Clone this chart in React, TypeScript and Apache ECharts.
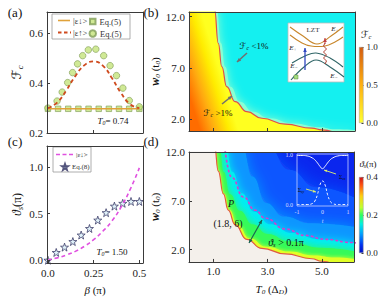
import React, { useEffect, useRef } from 'react';
import * as echarts from 'echarts';

const FONT = 'Liberation Serif, DejaVu Serif, serif';

// ---------- panel (a) ----------
const betaSquares = [0, 0.0556, 0.1111, 0.1667, 0.2222, 0.2778, 0.3333, 0.3889, 0.4444, 0.5];
const fcDownEq5 = [0.297, 0.297, 0.297, 0.297, 0.297, 0.297, 0.297, 0.297, 0.297, 0.297];
const betaCircles = [0, 0.05, 0.078, 0.108, 0.135, 0.162, 0.19, 0.221, 0.262, 0.305, 0.34, 0.375, 0.41, 0.445, 0.5];
const fcUpEq5 = [0.3, 0.328, 0.364, 0.402, 0.442, 0.477, 0.51, 0.533, 0.536, 0.51, 0.47, 0.43, 0.38, 0.33, 0.305];
const betaLineA = [0, 0.05, 0.1, 0.15, 0.2, 0.25, 0.3, 0.35, 0.4, 0.45, 0.5];
const fcDownLine = [0.297, 0.297, 0.297, 0.297, 0.297, 0.297, 0.297, 0.297, 0.297, 0.297, 0.297];
const fcUpLine = [0.3, 0.322, 0.37, 0.428, 0.472, 0.487, 0.47, 0.42, 0.36, 0.315, 0.3];

// ---------- panel (c) ----------
const betaStars = [0, 0.0455, 0.0909, 0.1364, 0.1818, 0.2273, 0.2727, 0.3182, 0.3636, 0.4091, 0.4545, 0.5];
const thetaEq8 = [0, 0.083, 0.14, 0.2, 0.27, 0.34, 0.43, 0.51, 0.58, 0.61, 0.63, 0.63];
const betaLineC = [0, 0.05, 0.1, 0.15, 0.2, 0.25, 0.3, 0.35, 0.4, 0.45, 0.5];
const thetaDown = [0, 0.025, 0.055, 0.095, 0.15, 0.22, 0.31, 0.42, 0.57, 0.76, 0.99];

// ---------- panel (b) ----------
const t0BoundB = [0.1, 1.04, 1.18, 1.31, 1.49, 1.8, 2.23, 2.79, 3.65, 4.63, 5.0, 5.4];
const w0BoundB = [12.7, 12.7, 9.4, 7.13, 5.19, 3.73, 2.76, 2.12, 1.54, 1.15, 0.99, 0.8];
const t0HaloB = [0.1, 1.12, 1.28, 1.43, 1.63, 1.98, 2.45, 3.05, 3.95, 4.9, 5.5, 6.3];
const w0HaloB = [12.7, 12.7, 9.4, 7.13, 5.19, 3.73, 2.76, 2.12, 1.6, 1.25, 1.05, 0.95];

// ---------- panel (d) ----------
const t0BoundD = [0.1, 1.04, 1.18, 1.37, 1.55, 1.8, 2.23, 2.79, 3.65, 4.63, 5.0, 5.4];
const w0BoundD = [12.7, 12.7, 10.06, 7.73, 6.06, 4.56, 3.06, 2.13, 1.56, 1.06, 0.8, 0.55];
const t0Yellow = [0.1, 1.06, 1.2, 1.4, 1.6, 1.88, 2.35, 2.95, 3.8, 4.7, 5.5, 6.3];
const w0Yellow = [12.7, 12.7, 10.06, 7.73, 6.06, 4.56, 3.15, 2.3, 1.8, 1.4, 1.18, 1.0];
const t0Green = [0.1, 1.22, 1.38, 1.62, 1.98, 2.45, 3.0, 3.8, 4.9, 6.3];
const w0Green = [12.7, 12.7, 10.0, 7.7, 6.0, 4.6, 3.6, 2.85, 2.2, 1.8];
const t0Cyan = [0.1, 1.45, 1.7, 2.05, 2.5, 3.1, 3.9, 4.9, 6.3];
const w0Cyan = [12.7, 12.7, 10.0, 7.8, 5.9, 4.6, 3.7, 3.05, 2.6];
const t0LBlue = [0.1, 2.05, 2.45, 2.95, 3.6, 4.6, 6.3];
const w0LBlue = [12.7, 12.7, 9.5, 6.8, 5.4, 4.7, 4.3];
const t0MBlue = [0.1, 3.0, 3.8, 4.8, 6.3];
const w0MBlue = [12.7, 12.7, 10.2, 8.4, 7.2];
const t0Dotted = [1.41, 1.68, 2.11, 2.54, 2.91, 3.65, 4.38, 5.12, 6.1, 6.3];
const w0Dotted = [12.7, 9.4, 7.4, 6.06, 5.23, 4.13, 3.46, 3.06, 2.73, 2.68];
const pointP = [1.8, 6];

// ---------- inset (d) ----------
const tInset = [-1, -0.8, -0.6, -0.4, -0.3, -0.2, -0.1, 0, 0.1, 0.2, 0.3, 0.4, 0.6, 0.8, 1];
const sigmaZZ = [1, 1, 0.99, 0.95, 0.91, 0.85, 0.78, 0.73, 0.78, 0.85, 0.91, 0.95, 0.99, 1, 1];
const sigmaZY = [0, 0, 0, 0.02, 0.07, 0.2, 0.4, 0.48, 0.4, 0.2, 0.07, 0.02, 0, 0, 0];

// ---------- colour bars ----------
const cbFcMax = [1];
const cbThetaMax = [0.4];
const cbFcTicks = [0, 0.5, 1];
const cbThetaTicks = [0, 0.2, 0.4];

const zip = (xs: number[], ys: number[]) => xs.map((x, i) => [x, ys[i]]);

const starPath =
  'path://M0,-10 L2.35,-3.24 L9.51,-3.09 L3.8,1.24 L5.88,8.09 L0,4 L-5.88,8.09 L-3.8,1.24 L-9.51,-3.09 L-2.35,-3.24 Z';

const FRAME = '#3a3a3a';

function frameX(gridIndex: number) {
  return {
    type: 'value', gridIndex, position: 'top', min: 0, max: 1, z: 10,
    axisLine: { show: true, onZero: false, lineStyle: { color: FRAME, width: 1 } },
    axisTick: { show: false }, axisLabel: { show: false }, splitLine: { show: false },
  };
}
function frameY(gridIndex: number) {
  return {
    type: 'value', gridIndex, position: 'right', min: 0, max: 1, z: 10,
    axisLine: { show: true, onZero: false, lineStyle: { color: FRAME, width: 1 } },
    axisTick: { show: false }, axisLabel: { show: false }, splitLine: { show: false },
  };
}
const tickLbl = (vals: number[], fmt: (v: number) => string, show = true, extra: any = {}) => ({
  show, customValues: vals, formatter: fmt, fontFamily: FONT, fontSize: 11, color: '#222', margin: 4, ...extra,
});
const ticks = (vals: number[]) => ({ show: true, inside: true, length: 3, customValues: vals, lineStyle: { color: FRAME } });

function arrow(x1: number, y1: number, x2: number, y2: number, color: string, w: number, head: number, dbl: boolean) {
  const els: any[] = [{ type: 'line', z: 100, shape: { x1, y1, x2, y2 }, style: { stroke: color, lineWidth: w } }];
  const mk = (xa: number, ya: number, xb: number, yb: number) => {
    const dx = xb - xa, dy = yb - ya, L = Math.hypot(dx, dy), ux = dx / L, uy = dy / L;
    const bx = xb - ux * head, by = yb - uy * head, px = -uy * head * 0.45, py = ux * head * 0.45;
    return { type: 'polygon', z: 100, shape: { points: [[xb, yb], [bx + px, by + py], [bx - px, by - py]] }, style: { fill: color } };
  };
  els.push(mk(x1, y1, x2, y2));
  if (dbl) els.push(mk(x2, y2, x1, y1));
  return els;
}

function txt(x: number, y: number, text: string, rich: any, size = 10, align = 'center', color = '#111') {
  return {
    type: 'text', x, y, z: 100,
    style: { text, rich, fill: color, fontFamily: FONT, fontSize: size, align, verticalAlign: 'middle' },
  };
}

const subRich = (size: number, color = '#111') => ({
  i: { fontFamily: FONT, fontStyle: 'italic', fontSize: size, color },
  n: { fontFamily: FONT, fontSize: size, color },
  s: { fontFamily: FONT, fontStyle: 'italic', fontSize: size * 0.65, color, padding: [size * 0.55, 0, 0, 0] },
  f: { fontFamily: 'DejaVu Serif, DejaVu Sans', fontStyle: 'italic', fontSize: size, color },
});

const legendLine = (x1: number, x2: number, y: number, color: string, width: number, dash: number[] | null) => ({
  type: 'line', z: 100, shape: { x1, y1: y, x2, y2: y },
  style: dash ? { stroke: color, lineWidth: width, lineDash: dash } : { stroke: color, lineWidth: width },
});

const symLegend = (left: number, top: number, name: string, label: string, s: number, fs: number) => ({
  left, top, padding: 0, itemWidth: s, itemHeight: s, data: [name], formatter: () => label,
  textStyle: { fontSize: fs, fontFamily: FONT, color: '#333', padding: [0, 0, 0, -1] },
});

export default function App() {
  const ref = useRef<HTMLDivElement>(null);
  useEffect(() => {
    if (!ref.current) return;
    const chart = echarts.init(ref.current, undefined, { renderer: 'svg' });

    const gradB = new echarts.graphic.LinearGradient(0, 0.7, 0.25, 0.633, [
      { offset: 0, color: '#ff6c00' },
      { offset: 0.35, color: '#ffaa10' },
      { offset: 0.75, color: '#ffec00' },
      { offset: 1, color: '#ffff20' },
    ]);
    const cbGradB = new echarts.graphic.LinearGradient(0, 0, 0, 1, [
      { offset: 0, color: '#d45c10' },
      { offset: 0.5, color: '#ffb010' },
      { offset: 1, color: '#ffff30' },
    ]);
    const cbGradD = new echarts.graphic.LinearGradient(0, 0, 0, 1, [
      { offset: 0, color: '#cc1515' },
      { offset: 0.1, color: '#ff5010' },
      { offset: 0.25, color: '#ffd010' },
      { offset: 0.4, color: '#c0ff30' },
      { offset: 0.5, color: '#30ff60' },
      { offset: 0.62, color: '#00f0e0' },
      { offset: 0.75, color: '#00a0ff' },
      { offset: 0.9, color: '#0030f0' },
      { offset: 1, color: '#0010c0' },
    ]);

    const r10 = subRich(10);
    const r9 = subRich(9);
    const r7 = subRich(7);
    const r6w = subRich(6, '#e8ecff');
    const lrA = { n: { fontFamily: FONT, fontSize: 8.5, color: '#333' } };
    const lrC = { n: { fontFamily: FONT, fontSize: 7, color: '#333' } };

    const graphics: any[] = [
      txt(15, 12, '(a)', null, 13), txt(151, 12, '(b)', null, 13),
      txt(15, 141, '(c)', null, 13), txt(151, 141, '(d)', null, 13),
      { type: 'rect', z: 1, shape: { x: 52, y: 14, width: 78, height: 25 }, style: { fill: '#fff', stroke: '#999', lineWidth: 0.8 } },
      { type: 'rect', z: 1, shape: { x: 53, y: 147, width: 38, height: 25 }, style: { fill: '#fff', stroke: '#999', lineWidth: 0.8 } },
      legendLine(58, 70, 20.5, '#e0a23a', 1.6, null),
      txt(73, 20.5, '{n||ε↓>}', lrA, 8.5, 'left', '#333'),
      legendLine(58, 71, 32.5, '#cf4a1e', 1.8, [3.5, 2.5]),
      txt(73, 32.5, '{n||ε↑>}', lrA, 8.5, 'left', '#333'),
      legendLine(56, 73, 154.5, '#e050e0', 1.6, [4, 2.5]),
      txt(76, 154.5, '{n||ε↓>}', lrC, 7, 'left', '#333'),
      txt(113, 121, '{i|T}{s|0}{n|= 0.74}', r9, 9),
      txt(112, 252, '{i|T}{s|0}{n|= 1.50}', r9, 9),
      txt(254, 46, '{f|ℱ}{s|c}{n| <1%}', r9, 9),
      txt(218, 113, '{f|ℱ}{s|c}{n| >1%}', r9, 9),
      ...arrow(247, 53, 237, 62, '#707070', 1.6, 4, false),
      ...arrow(222, 104, 232, 96, '#707070', 1.6, 4, false),
      { type: 'rect', z: 100, shape: { x: 288, y: 23, width: 56, height: 59 }, style: { fill: '#fff', stroke: '#bbb', lineWidth: 0.8 } },
      { type: 'polyline', z: 101, shape: { points: [[290, 27], [303, 36], [317, 44], [331, 36], [343, 27]], smooth: 0.4 }, style: { stroke: '#c8862a', lineWidth: 1.1, fill: null } },
      { type: 'polyline', z: 101, shape: { points: [[290, 35], [302, 43], [311, 46], [325, 46], [335, 42], [343, 37]], smooth: 0.4 }, style: { stroke: '#c8862a', lineWidth: 1.1, fill: null } },
      { type: 'polyline', z: 101, shape: { points: [[292, 63], [305, 56], [316, 53], [330, 58], [343, 67]], smooth: 0.4 }, style: { stroke: '#2e6466', lineWidth: 1.1, fill: null } },
      { type: 'polyline', z: 101, shape: { points: [[291, 80], [304, 67], [316, 60], [330, 67], [344, 77]], smooth: 0.4 }, style: { stroke: '#2e6466', lineWidth: 1.1, fill: null } },
      ...arrow(305, 70, 305, 48, '#3048c0', 1.3, 4, false).map((e) => ({ ...e, z: 102 })),
      { type: 'polyline', z: 102, shape: { points: [[325, 64], [326.5, 61], [323.5, 58], [326.5, 55], [323.5, 52], [326.5, 49], [323.5, 46], [325, 43]] }, style: { stroke: '#b04030', lineWidth: 1, fill: null } },
      ...arrow(325, 44, 325, 38, '#c04040', 1, 4, false).map((e) => ({ ...e, z: 102 })),
      txt(313, 30, 'LZT', null, 7, 'center', '#333'),
      txt(335, 29, '{i|E}{s|+}', r7, 7),
      txt(293, 48, '{i|E}{s|+}', r7, 7),
      txt(294, 66, '{i|E}{s|−}', r7, 7),
      txt(334, 76, '{i|E}{s|−}', r7, 7),
      { type: 'rect', z: 102, shape: { x: 294, y: 75, width: 4, height: 4 }, style: { fill: '#a8e080', stroke: '#5a8a40', lineWidth: 0.5 } },
      txt(366, 34, '{f|ℱ}{s|c}', r10, 10),
      txt(368, 164, '{i|ϑ}{s|s}{n|(π)}', r9, 9),
      txt(231, 203, '{i|P}', r10, 10),
      txt(228, 223, '(1.8, 6)', null, 10),
      ...arrow(249, 243, 262, 220, '#1a6450', 1.2, 4, true),
      txt(286, 242, '{i|ϑ}{s|s}{n| > 0.1π}', r10, 10),
      txt(339, 177, '{n|Σ}{s|zz}', r6w, 6, 'left'),
      txt(301, 190, '{n|Σ}{s|zy}', r6w, 6, 'center'),
      ...arrow(336, 174, 324, 170, '#e0f070', 0.9, 3, false),
      ...arrow(306, 189, 316, 192, '#e0f070', 0.9, 3, false),
    ];

    const bandArea = (name: string, xi: number, xs: number[], ys: number[], color: string, blur: number) => ({
      name, type: 'line', xAxisIndex: xi, yAxisIndex: xi, data: zip(xs, ys), symbol: 'none', smooth: true, smoothMonotone: 'x',
      lineStyle: { width: 0 }, areaStyle: { origin: 'start', color, opacity: 1, shadowBlur: blur, shadowColor: color },
    });

    const option: any = {
      animation: false,
      backgroundColor: '#fff',
      textStyle: { fontFamily: FONT },
      grid: [
        { left: 47, top: 12, width: 96, height: 121 },
        { left: 47, top: 146, width: 96, height: 117 },
        { left: 189, top: 12, width: 166, height: 119, show: true, backgroundColor: '#14f0f0', borderWidth: 0 },
        { left: 189, top: 152, width: 165, height: 113, show: true, backgroundColor: '#0a26ee', borderWidth: 0 },
        { left: 359, top: 47, width: 4.5, height: 76 },
        { left: 359, top: 177, width: 4.5, height: 76 },
        { left: 297, top: 154, width: 51, height: 52, z: 20, show: true, backgroundColor: 'transparent', borderColor: '#c8d0ff', borderWidth: 0.8 },
      ],
      xAxis: [
        { type: 'value', gridIndex: 0, min: -0.005, max: 0.52, z: 10,
          axisLine: { show: true, onZero: false, lineStyle: { color: FRAME } },
          axisTick: ticks([0.25]), axisLabel: { show: false }, splitLine: { show: false } },
        { type: 'value', gridIndex: 1, min: -0.005, max: 0.52, z: 10,
          axisLine: { show: true, onZero: false, lineStyle: { color: FRAME } },
          axisTick: ticks([0, 0.25, 0.5]),
          axisLabel: tickLbl([0, 0.25, 0.5], (v: number) => (v === 0.25 ? '0.25' : v.toFixed(1))),
          splitLine: { show: false },
          name: '{i|β}{n| (π)}', nameLocation: 'middle', nameGap: 21, nameTextStyle: { rich: subRich(11) } },
        { type: 'value', gridIndex: 2, min: 0.1, max: 6.22, z: 10,
          axisLine: { show: true, onZero: false, lineStyle: { color: FRAME } },
          axisTick: ticks([1, 3, 5]), axisLabel: { show: false }, splitLine: { show: false } },
        { type: 'value', gridIndex: 3, min: 0.1, max: 6.19, z: 10,
          axisLine: { show: true, onZero: false, lineStyle: { color: FRAME } },
          axisTick: ticks([1, 3, 5]),
          axisLabel: tickLbl([1, 3, 5], (v: number) => v.toFixed(1)),
          splitLine: { show: false },
          name: '{i|T}{s|0}{n| (Δ}{s|D}{n|)}', nameLocation: 'middle', nameGap: 21, nameTextStyle: { rich: subRich(11) } },
        { type: 'category', gridIndex: 4, data: [''], show: false },
        { type: 'category', gridIndex: 5, data: [''], show: false },
        { type: 'value', gridIndex: 6, min: -1, max: 1, z: 20,
          axisLine: { show: false, onZero: false }, axisTick: { show: false },
          axisLabel: { customValues: [-1, 0, 1], formatter: (v: number) => String(v), fontSize: 6, color: '#d8dcff', margin: 3, fontFamily: FONT },
          splitLine: { show: false },
          name: 't', nameLocation: 'middle', nameGap: 12, nameTextStyle: { fontSize: 6, color: '#d8dcff', fontStyle: 'italic', fontFamily: FONT } },
        frameX(0), frameX(1), frameX(2), frameX(3),
      ],
      yAxis: [
        { type: 'value', gridIndex: 0, min: 0.2, max: 0.685, z: 10,
          axisLine: { show: true, onZero: false, lineStyle: { color: FRAME } },
          axisTick: ticks([0.2, 0.4, 0.6]),
          axisLabel: tickLbl([0.2, 0.4, 0.6], (v: number) => v.toFixed(1)),
          splitLine: { show: false },
          name: '{f|ℱ}{s|c}', nameLocation: 'middle', nameRotate: 90, nameGap: 23, nameTextStyle: { rich: subRich(13) } },
        { type: 'value', gridIndex: 1, min: -0.03, max: 1.225, z: 10,
          axisLine: { show: true, onZero: false, lineStyle: { color: FRAME } },
          axisTick: ticks([0, 0.5, 1]),
          axisLabel: tickLbl([0, 0.5, 1], (v: number) => v.toFixed(1)),
          splitLine: { show: false },
          name: '{i|ϑ}{s|s}{n|(π)}', nameLocation: 'middle', nameRotate: 90, nameGap: 23, nameTextStyle: { rich: subRich(12) } },
        { type: 'value', gridIndex: 2, min: 0.88, max: 12.44, z: 10,
          axisLine: { show: true, onZero: false, lineStyle: { color: FRAME } },
          axisTick: ticks([2, 7, 12]),
          axisLabel: tickLbl([2, 7, 12], (v: number) => v.toFixed(1)),
          splitLine: { show: false },
          name: '{b|w}{s|0}{n| (t}{s|0}{n|)}', nameLocation: 'middle', nameRotate: 90, nameGap: 24,
          nameTextStyle: { rich: { ...subRich(11), b: { fontFamily: FONT, fontStyle: 'italic', fontWeight: 'bold', fontSize: 12, color: '#111' } } } },
        { type: 'value', gridIndex: 3, min: 0.73, max: 12.03, z: 10,
          axisLine: { show: true, onZero: false, lineStyle: { color: FRAME } },
          axisTick: ticks([2, 7, 12]),
          axisLabel: tickLbl([2, 7, 12], (v: number) => v.toFixed(1)),
          splitLine: { show: false },
          name: '{b|w}{s|0}{n| (t}{s|0}{n|)}', nameLocation: 'middle', nameRotate: 90, nameGap: 24,
          nameTextStyle: { rich: { ...subRich(11), b: { fontFamily: FONT, fontStyle: 'italic', fontWeight: 'bold', fontSize: 12, color: '#111' } } } },
        { type: 'value', gridIndex: 4, position: 'right', min: 0, max: 1,
          axisLine: { show: false }, axisTick: { show: true, inside: true, length: 2, customValues: cbFcTicks, lineStyle: { color: '#333' } },
          axisLabel: { customValues: cbFcTicks, formatter: (v: number) => v.toFixed(1), fontSize: 9, color: '#222', margin: 3, fontFamily: FONT },
          splitLine: { show: false } },
        { type: 'value', gridIndex: 5, position: 'right', min: 0, max: 0.4,
          axisLine: { show: false }, axisTick: { show: true, inside: true, length: 2, customValues: cbThetaTicks, lineStyle: { color: '#333' } },
          axisLabel: { customValues: cbThetaTicks, formatter: (v: number) => v.toFixed(1), fontSize: 9, color: '#222', margin: 3, fontFamily: FONT },
          splitLine: { show: false } },
        { type: 'value', gridIndex: 6, min: -0.03, max: 1.03, z: 20,
          axisLine: { show: false, onZero: false }, axisTick: { show: false },
          axisLabel: { customValues: [0, 1], formatter: (v: number) => v.toFixed(1), fontSize: 6, color: '#d8dcff', margin: 4, fontFamily: FONT },
          splitLine: { show: false } },
        frameY(0), frameY(1), frameY(2), frameY(3),
      ],
      legend: [
        symLegend(89, 17, 'aSquares', 'Eq.(5)', 5.5, 8.5),
        symLegend(88.5, 29, 'aCircles', 'Eq.(5)', 6.5, 8.5),
        symLegend(61, 163, 'cStars', 'Eq.(8)', 6, 7),
      ],
      graphic: graphics,
      series: [
        { name: 'aDownLine', type: 'line', xAxisIndex: 0, yAxisIndex: 0, data: zip(betaLineA, fcDownLine), symbol: 'none',
          lineStyle: { color: '#e0a23a', width: 1.6 }, itemStyle: { color: '#e0a23a' } },
        { name: 'aUpLine', type: 'line', xAxisIndex: 0, yAxisIndex: 0, data: zip(betaLineA, fcUpLine), symbol: 'none', smooth: true,
          lineStyle: { color: '#cf4a1e', width: 1.8, type: [4, 3] }, itemStyle: { color: '#cf4a1e' } },
        { name: 'aSquares', type: 'scatter', xAxisIndex: 0, yAxisIndex: 0, data: zip(betaSquares, fcDownEq5), symbol: 'rect', symbolSize: 5.5,
          itemStyle: { color: '#c4e47a', borderColor: '#7f9c58', borderWidth: 0.8 } },
        { name: 'aCircles', type: 'scatter', xAxisIndex: 0, yAxisIndex: 0, data: zip(betaCircles, fcUpEq5), symbol: 'circle', symbolSize: 6.5,
          itemStyle: { color: '#c4e47a', borderColor: '#7f9c58', borderWidth: 0.8 } },
        { name: 'cDownLine', type: 'line', xAxisIndex: 1, yAxisIndex: 1, data: zip(betaLineC, thetaDown), symbol: 'none', smooth: true,
          lineStyle: { color: '#e050e0', width: 1.6, type: [4, 3] }, itemStyle: { color: '#e050e0' } },
        { name: 'cStars', type: 'scatter', xAxisIndex: 1, yAxisIndex: 1, data: zip(betaStars, thetaEq8), symbol: starPath, symbolSize: 8,
          itemStyle: { color: '#d8eef8', borderColor: '#2c2c5c', borderWidth: 0.9 } },
        bandArea('bHalo', 2, t0HaloB, w0HaloB, '#8affd2', 10),
        { name: 'bBound', type: 'line', xAxisIndex: 2, yAxisIndex: 2, data: zip(t0BoundB, w0BoundB), symbol: 'none',
          smooth: true, smoothMonotone: 'x',
          lineStyle: { color: '#e0504a', width: 1.2 },
          areaStyle: { origin: 'start', color: gradB, opacity: 1 } },
        bandArea('dMBlue', 3, t0MBlue, w0MBlue, '#0a56ff', 18),
        bandArea('dLBlue', 3, t0LBlue, w0LBlue, '#0a96ff', 14),
        bandArea('dCyan', 3, t0Cyan, w0Cyan, '#00ecf4', 10),
        bandArea('dGreen', 3, t0Green, w0Green, '#34fa5a', 8),
        bandArea('dYellow', 3, t0Yellow, w0Yellow, '#e2ff28', 4),
        { name: 'dBound', type: 'line', xAxisIndex: 3, yAxisIndex: 3, data: zip(t0BoundD, w0BoundD), symbol: 'none', smooth: true, smoothMonotone: 'x',
          lineStyle: { color: '#e05a40', width: 1.2 }, areaStyle: { origin: 'start', color: '#f4f0eb', opacity: 1 } },
        { name: 'dDotted', type: 'line', xAxisIndex: 3, yAxisIndex: 3, data: zip(t0Dotted, w0Dotted), symbol: 'none', smooth: true, smoothMonotone: 'x',
          lineStyle: { color: '#d040d0', width: 1.7, type: [1.5, 3.5], cap: 'round' } },
        { name: 'dP', type: 'scatter', xAxisIndex: 3, yAxisIndex: 3, data: [pointP], symbol: 'circle', symbolSize: 4,
          itemStyle: { color: '#ffffff', borderColor: '#5a9ac0', borderWidth: 0.8 } },
        { name: 'cbB', type: 'bar', xAxisIndex: 4, yAxisIndex: 4, data: cbFcMax, barWidth: '100%',
          itemStyle: { color: cbGradB, borderColor: '#999', borderWidth: 0.5 } },
        { name: 'cbD', type: 'bar', xAxisIndex: 5, yAxisIndex: 5, data: cbThetaMax, barWidth: '100%',
          itemStyle: { color: cbGradD, borderColor: '#999', borderWidth: 0.5 } },
        { name: 'insZZ', type: 'line', xAxisIndex: 6, yAxisIndex: 6, z: 20, data: zip(tInset, sigmaZZ), symbol: 'none', smooth: true,
          lineStyle: { color: '#f2f4ff', width: 1 } },
        { name: 'insZY', type: 'line', xAxisIndex: 6, yAxisIndex: 6, z: 20, data: zip(tInset, sigmaZY), symbol: 'none', smooth: true,
          lineStyle: { color: '#f2f4ff', width: 1, type: [2.5, 2] } },
      ],
    };
    chart.setOption(option);
    return () => chart.dispose();
  }, []);
  return <div ref={ref} style={{ position: 'fixed', left: 0, top: 0, width: 389, height: 297 }} />;
}
